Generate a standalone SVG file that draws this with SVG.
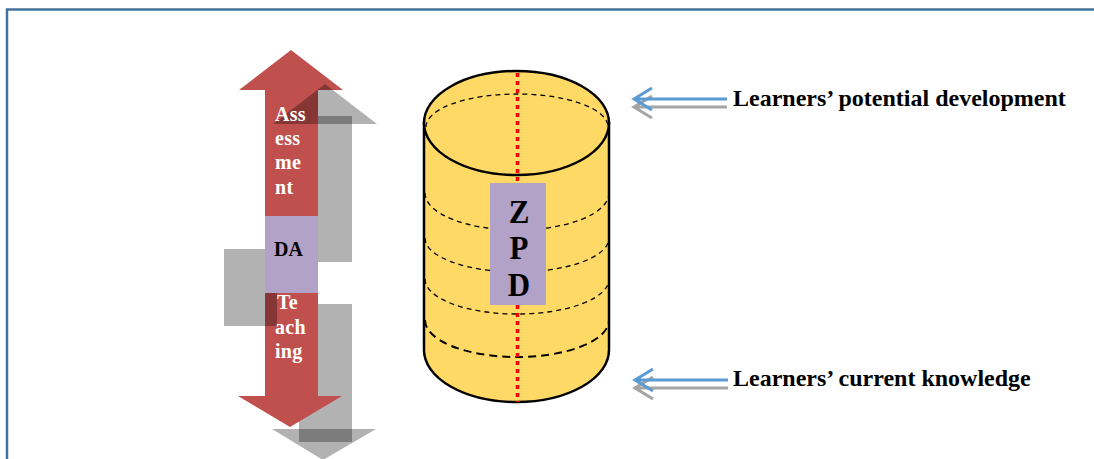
<svg xmlns="http://www.w3.org/2000/svg" width="1094" height="459" viewBox="0 0 1094 459">
<style>
.red{fill:#C0504D}
.sh{fill:#000;fill-opacity:0.3}
.wt{font-family:"Liberation Serif",serif;font-weight:bold;font-size:20px;fill:#fff;letter-spacing:0.3px}
.bt{font-family:"Liberation Serif",serif;font-weight:bold;fill:#000}
.dash{fill:none;stroke:#000;stroke-width:1.3;stroke-dasharray:5 4}
.blue{fill:none;stroke:#5B9BD5;stroke-width:3}
.gray{fill:none;stroke:#A5A5A5;stroke-width:3}
</style>
<rect width="1094" height="459" fill="#fff"/>
<path d="M7 459 V9.5 H1094" fill="none" stroke="#41719C" stroke-width="2.5"/>

<g id="arrow-shadows">
<rect class="sh" x="299" y="116" width="53" height="146"/>
<rect class="sh" x="299" y="304" width="53" height="138"/>
<polygon class="sh" points="272,429 376,429 323,460"/>
</g>

<g id="arrow-up">
<polygon class="red" points="291,50 343,90 318,90 318,217 265,217 265,90 239,90"/>
<polygon class="sh" points="325,84 377,124 273,124"/>
<text class="wt" x="275" y="121">Ass</text>
<text class="wt" x="275" y="145">ess</text>
<text class="wt" x="275" y="169">me</text>
<text class="wt" x="275" y="194">nt</text>
</g>

<g id="arrow-down">
<polygon class="red" points="265,292 318,292 318,396 342,396 290,427 238,396 265,396"/>
<text class="wt" x="277" y="309">Te</text>
<text class="wt" x="275" y="334">ach</text>
<text class="wt" x="275" y="358">ing</text>
</g>

<g id="da">
<rect class="sh" x="224" y="249" width="53" height="77"/>
<rect x="265" y="216" width="53" height="77" fill="#B2A2C7"/>
<text class="bt" x="274" y="256" font-size="20">DA</text>
</g>

<g id="cylinder">
<path d="M424 123 L424 350 A92.5 52 0 0 0 609 350 L609 123 Z" fill="#FFD966" stroke="#000" stroke-width="2.5"/>
<ellipse cx="516.5" cy="123" rx="92.5" ry="52" fill="#FFD966" stroke="#000" stroke-width="2.5"/>
<path class="dash" d="M426 127 A91 33 0 0 1 608 127"/>
<path class="dash" d="M425 193 A92 37 0 0 0 609 193"/>
<path class="dash" d="M425 238 A92 34 0 0 0 609 238"/>
<path class="dash" d="M425 279 A92 35 0 0 0 609 279"/>
<path d="M425 320 A92 37 0 0 0 609 320" fill="none" stroke="#000" stroke-width="2" stroke-dasharray="8 5"/>
<line x1="517.5" y1="73" x2="517.5" y2="402" stroke="#FF0000" stroke-width="3.5" stroke-dasharray="4 4"/>
</g>

<g id="zpd">
<rect x="490" y="183" width="56" height="122" fill="#B2A2C7"/>
<text class="bt" font-size="31" text-anchor="middle" transform="translate(519 223) scale(1 1.12)">Z</text>
<text class="bt" font-size="31" text-anchor="middle" transform="translate(519 259) scale(1 1.12)">P</text>
<text class="bt" font-size="31" text-anchor="middle" transform="translate(519 296) scale(1 1.12)">D</text>
</g>

<g id="connectors">
<path class="gray" d="M727 107 H634 M652 96 L634 107 L652 118"/>
<path class="blue" d="M727 99 H634 M652 88 L634 99 L652 110"/>
<path class="gray" d="M728 388 H635 M653 377 L635 388 L653 399"/>
<path class="blue" d="M728 380 H635 M653 369 L635 380 L653 391"/>
</g>

<g id="label-potential">
<text class="bt" font-size="24" x="733" y="106">Learners’ potential development</text>
</g>
<g id="label-current">
<text class="bt" font-size="24" x="733" y="386">Learners’ current knowledge</text>
</g>
</svg>
